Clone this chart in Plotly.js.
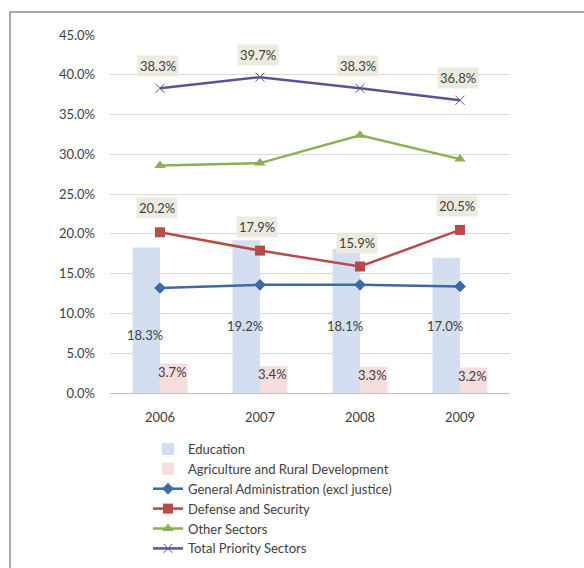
<!DOCTYPE html>
<html><head><meta charset="utf-8">
<script src="https://cdn.plot.ly/plotly-3.0.1.min.js"></script>
<style>html,body{margin:0;padding:0;background:#fff;}#chart{width:584px;height:568px;}</style>
</head><body><div id="chart"></div>
<script>
const years = ['2006', '2007', '2008', '2009'];
const education = [18.3, 19.2, 18.1, 17.0];
const agriculture = [3.7, 3.4, 3.3, 3.2];
const generalAdmin = [13.2, 13.6, 13.6, 13.4];
const defense = [20.2, 17.9, 15.9, 20.5];
const otherSectors = [28.6, 28.9, 32.4, 29.4];
const totalPriority = [38.3, 39.7, 38.3, 36.8];
const yTicks = [0, 5, 10, 15, 20, 25, 30, 35, 40, 45];

const FONT = 'Lato, "Open Sans", sans-serif';
const TXT = '#404040';

const traces = [
  {type:'bar', name:'Education', x:years, y:education, marker:{color:'#d3dff0'}, hoverinfo:'y'},
  {type:'bar', name:'Agriculture and Rural Development', x:years, y:agriculture, marker:{color:'#f5dedd'}, hoverinfo:'y'},
  {type:'scatter', mode:'lines+markers', name:'General Administration (excl justice)', x:years, y:generalAdmin,
   line:{color:'#3a6aa8', width:2.5}, marker:{symbol:'diamond', size:9, color:'#3a6aa8'}},
  {type:'scatter', mode:'lines+markers', name:'Defense and Security', x:years, y:defense,
   line:{color:'#b84a47', width:2.5}, marker:{symbol:'square', size:10, color:'#b84a47'}},
  {type:'scatter', mode:'lines+markers', name:'Other Sectors', x:years, y:otherSectors,
   line:{color:'#8db052', width:2.5}, marker:{symbol:'triangle-up', size:10, color:'#8db052'}},
  {type:'scatter', mode:'lines+markers', name:'Total Priority Sectors', x:years, y:totalPriority,
   line:{color:'#5f5098', width:2.5}, marker:{symbol:'x-thin-open', size:9, line:{color:'#9a8cc8', width:1}}}
];

const fmt = v => v.toFixed(1) + '%';
const annotations = [];
const labelBox = 'rgba(236,234,222,0.95)';
const eduLabelShift = [-9, 0, 0, 0];
years.forEach((yr, i) => {
  annotations.push({x:i - 0.15, y:education[i], yref:'y', xref:'x', text:fmt(education[i]), showarrow:false,
    yshift: -(education[i] * 7.956) + 67 + eduLabelShift[i], font:{family:FONT, size:13, color:TXT}});
  annotations.push({x:i + 0.12, y:agriculture[i], xref:'x', yref:'y', text:fmt(agriculture[i]), showarrow:false,
    yshift:-8, font:{family:FONT, size:13, color:TXT}});
  annotations.push({x:i - 0.02, y:totalPriority[i], xref:'x', yref:'y', text:fmt(totalPriority[i]), showarrow:false,
    yshift:22, bgcolor:labelBox, borderpad:2, font:{family:FONT, size:13, color:TXT}});
  annotations.push({x:i - 0.03, y:defense[i], xref:'x', yref:'y', text:fmt(defense[i]), showarrow:false,
    yshift:24, bgcolor:labelBox, borderpad:2, font:{family:FONT, size:13, color:TXT}});
});

const layout = {
  width:584, height:568,
  margin:{l:110, r:74, t:35, b:175, autoexpand:false},
  paper_bgcolor:'#fff', plot_bgcolor:'#fff',
  font:{family:FONT, size:13, color:TXT},
  barmode:'group', bargap:0.45, bargroupgap:0,
  showlegend:true,
  legend:{x:0.095, xanchor:'left', yref:'container', y:0.236, yanchor:'top', orientation:'v', traceorder:'normal',
    font:{family:FONT, size:13, color:TXT}, tracegroupgap:0, itemwidth:30, bgcolor:'rgba(0,0,0,0)'},
  xaxis:{type:'category', showgrid:false, showline:true, linecolor:'#bfbfbf', linewidth:1,
    ticks:'', ticklabelstandoff:12, tickfont:{family:FONT, size:13, color:TXT}, fixedrange:true},
  yaxis:{range:[0,45], tickvals:yTicks, ticktext:yTicks.map(v => v.toFixed(1) + '%'),
    showgrid:true, gridcolor:'#d9d9d9', gridwidth:1, zeroline:false, showline:false,
    ticks:'', ticklabelstandoff:14, tickfont:{family:FONT, size:13, color:TXT}, fixedrange:true},
  shapes:[{type:'rect', xref:'paper', yref:'paper', x0:-0.25, x1:1.3, y0:-0.6, y1:1.064,
    line:{color:'#8c8c8c', width:1.5}, fillcolor:'rgba(0,0,0,0)', layer:'below'}],
  annotations: annotations
};

Plotly.newPlot('chart', traces, layout, {displayModeBar:false, staticPlot:true});
</script></body></html>
